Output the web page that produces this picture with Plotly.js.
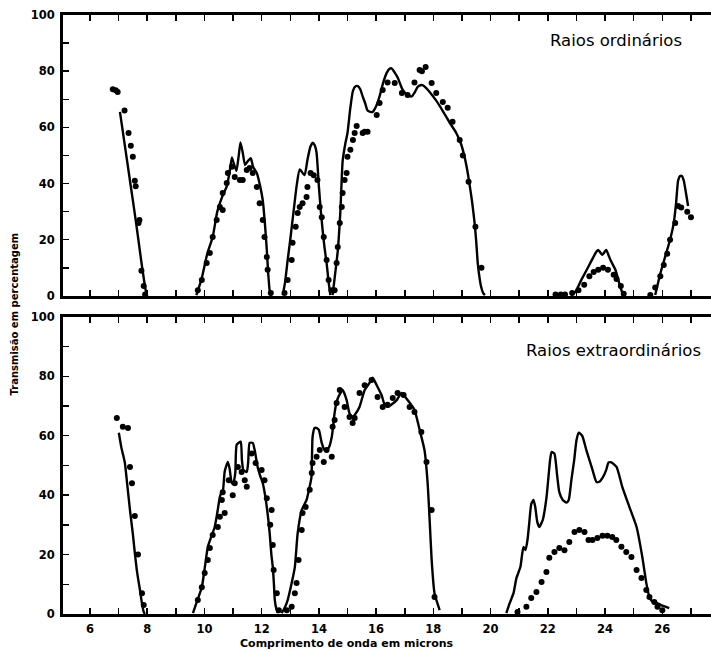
<!DOCTYPE html>
<html>
<head>
<meta charset="utf-8">
<script src="https://cdn.plot.ly/plotly-3.0.1.min.js"></script>
<style>html,body{margin:0;padding:0;background:#fff;}#chart{width:711px;height:651px;}</style>
</head>
<body>
<div id="chart"></div>
<script>
// ---------- Raios ordinários (top panel) ----------
const ordLineX = [7.05,7.2,7.4,7.6,7.8,7.9,7.97,8.0, null,
  9.72,9.9,10.1,10.29,10.45,10.61,10.78,10.88,10.96,11.03,11.12,11.2,11.26,11.34,11.42,11.52,11.62,11.7,11.83,11.95,12.04,12.12,12.18,12.23,12.28,12.32, null,
  12.74,12.82,12.91,13.0,13.08,13.15,13.22,13.33,13.5,13.6,13.7,13.78,13.86,13.92,14.0,14.07,14.13,14.2,14.27,14.34,14.4, null,
  14.48,14.57,14.66,14.75,14.83,14.92,15.0,15.1,15.19,15.28,15.36,15.45,15.53,15.62,15.7,15.8,15.88,16.0,16.12,16.25,16.37,16.46,16.54,16.65,16.76,16.85,16.93,17.1,17.24,17.35,17.45,17.55,17.62,17.75,17.87,18.1,18.32,18.55,18.8,18.97,19.09,19.18,19.26,19.36,19.44,19.5,19.55,19.62,19.67,19.74,19.8, null,
  22.8,22.96,23.17,23.41,23.6,23.7,23.76,23.83,23.9,23.97,24.04,24.12,24.2,24.36,24.53,24.64, null,
  25.75,25.93,26.1,26.27,26.4,26.48,26.55,26.62,26.68,26.75,26.82,26.9];
const ordLineY = [65.5,55,41,27,12,5,1,0, null,
  0.3,6,15,21,30,35,39,44,49.3,47,44.5,50,54.6,51,46.6,48,49,46,43.8,39,34,25,16.4,8,2,0, null,
  0.3,5,12.8,20,27,33,39,45,43,48.4,53,54.5,53.5,50.9,39,30,23.5,17,11.7,5,0.3, null,
  0.3,8,16,30,48,54,58,67,73,74.6,74.7,73.5,71,68.5,66,65.5,65.5,67.5,71,76,79.4,80.8,81,79.5,77.6,75.2,73.3,71.5,71,72.5,74.4,75,75,74,72.6,69.5,66,62,58,54,49.5,45,40,33,26,19,11.7,6,3.2,1,0.3, null,
  0.3,1.4,5.7,10.3,14,15.8,16.4,15.5,14.6,15.5,16.4,14.5,12.5,9.3,3.2,0, null,
  0.3,8,14,20,26,33,41,42.7,42.7,41,37,32];
const ordDotX = [6.8,6.9,6.97,7.21,7.35,7.43,7.5,7.57,7.6,7.7,7.73,7.8,7.88,7.93,
  9.77,9.91,10.08,10.19,10.29,10.43,10.54,10.64,10.64,10.78,10.82,10.96,11.06,11.24,11.34,11.48,11.58,11.69,11.83,11.93,12.04,12.1,12.18,12.21,12.32,
  12.8,12.91,13.05,13.08,13.19,13.26,13.33,13.43,13.57,13.6,13.71,13.82,13.95,14.03,14.1,14.17,14.27,14.34,14.44,
  14.55,14.62,14.66,14.73,14.8,14.83,14.9,14.97,15.0,15.1,15.19,15.25,15.32,15.53,15.6,15.7,16.02,16.12,16.23,16.4,16.65,16.9,17.1,17.34,17.52,17.6,17.73,17.94,18.1,18.33,18.5,18.67,18.92,19.03,19.23,19.47,19.68,
  22.27,22.45,22.6,22.85,23.07,23.27,23.45,23.6,23.76,23.93,24.1,24.3,24.4,24.55,24.65,
  25.58,25.75,25.93,26.05,26.17,26.27,26.45,26.55,26.66,26.87,27.0];
const ordDotY = [73.6,73.2,72.6,66,58,53.5,49.5,41,39,26,27,9,3.5,0.5,
  2,5.7,11.7,15.3,21,27,31.7,30.6,36.6,40.2,43.8,46,42.3,41.3,41.3,44.8,45.5,43.8,38.8,33,27,21,13.9,9.3,1,
  1,5.7,12.8,18.9,24.6,29.5,31.7,33,35.2,38.8,43.8,43,41.3,31.7,28,21,12.8,5.7,2,
  2,11.7,17.4,26,31.7,36.6,41.3,43.8,49.5,52,55.5,58,60.5,58,58.4,58.4,64.4,68.7,73.3,76,75.8,72.2,71.5,76,80.4,80,81.5,75.8,72.2,69,67,62,55.5,50,40.6,24.6,10,
  0.5,0.5,0.5,1,2,4,7,8.5,9.3,10,9.3,7.5,6,3.5,0.8,
  0.3,3,7,11,15,20,26,32,31.5,30,28];

// ---------- Raios extraordinários (bottom panel) ----------
const extLineX = [7.01,7.1,7.22,7.3,7.4,7.5,7.57,7.65,7.75,7.82,7.88,7.92, null,
  9.6,9.75,9.91,10.02,10.12,10.24,10.36,10.45,10.54,10.6,10.65,10.71,10.82,10.88,10.96,11.02,11.08,11.13,11.27,11.31,11.36,11.48,11.53,11.58,11.69,11.76,11.86,11.95,12.04,12.12,12.18,12.23,12.28,12.34,12.39,12.43,12.46,12.52,12.57, null,
  12.7,12.8,12.91,13.04,13.16,13.26,13.4,13.57,13.68,13.74,13.78,13.85,13.93,14.0,14.1,14.2,14.34,14.45,14.55,14.62,14.73,14.83,14.97,15.07,15.18,15.25,15.42,15.6,15.77,15.88,16.02,16.19,16.3,16.42,16.54,16.72,16.89,17.1,17.34,17.52,17.69,17.8,17.87,17.94,18.04,18.22, null,
  20.42,20.55,20.66,20.8,20.9,21.04,21.1,21.15,21.22,21.29,21.35,21.42,21.5,21.56,21.63,21.7,21.82,21.95,22.02,22.08,22.13,22.23,22.32,22.4,22.52,22.65,22.73,22.82,22.92,23.0,23.08,23.2,23.35,23.56,23.7,23.8,23.92,24.04,24.12,24.22,24.4,24.6,24.85,25.1,25.3,25.44,25.55,25.65,25.82,26.0,26.24];
const extLineY = [61,56,51,44,35,27,20.5,14,8,3.5,0.7,0, null,
  0.3,4.5,9,16,22.6,26,29.3,34,39.4,41,41.8,48,51.2,49,44,44.5,47.5,57,58,52,48.5,47.8,51,57.6,57.6,55,49.5,46.5,44,40,36,32,27.3,20,15.8,10,4.7,1.5,0.3, null,
  0.3,2,4.7,10,15.8,27.3,35,38.4,43,46,59.6,62.6,62.6,62,57.6,55.2,55.9,59.6,67.7,71.5,74,75.4,72,67.5,66.3,67,69.7,75.4,77.8,79.5,77,73.7,70.4,69.7,70.5,72,74.4,72,68.7,62,55.2,44,31.6,18.2,7,1.3,0, null,
  0.3,3.5,7,12,15.8,20,22.6,21.5,25,30.6,37,38.4,36,31,29.3,31.6,39,46,52,54.5,54,47,41,38.4,37.5,38.4,45,51.8,58.5,61,60,55,48.5,44.4,44.5,46,48.5,51,51,49.5,42.8,36,29.3,19.2,10.4,5.7,4.2,3.7,2.8,2,0.3];
const extDotX = [6.94,7.15,7.33,7.4,7.47,7.57,7.68,7.82,7.88,
  9.77,9.91,10.01,10.12,10.19,10.29,10.47,10.54,10.61,10.64,10.71,10.85,10.99,11.06,11.17,11.3,11.41,11.48,11.65,11.79,12.0,12.1,12.18,12.3,12.35,12.39,12.42,12.53,12.6,
  12.88,13.05,13.16,13.22,13.29,13.4,13.43,13.54,13.68,13.75,13.78,13.92,14.03,14.17,14.27,14.45,14.48,14.55,14.62,14.73,14.9,15.07,15.18,15.25,15.42,15.6,15.84,16.05,16.23,16.4,16.58,16.75,16.96,17.17,17.34,17.58,17.76,17.94,18.04,
  20.94,21.25,21.42,21.6,21.78,21.95,22.05,22.23,22.4,22.58,22.75,22.93,23.1,23.28,23.42,23.56,23.73,23.91,24.08,24.25,24.39,24.57,24.74,24.92,25.1,25.27,25.44,25.55,25.72,25.83,26.0];
const extDotY = [66,63,62.6,49.5,44,33,20,7,3,
  4.7,9,13.8,18.2,22.2,26.6,29.3,32.7,38.4,41,34,45,40,44,49.5,47.8,45,42.8,54,50.8,48.5,45,39,30,35,23.2,14.8,7,1.3,
  1.3,2.4,7,10.4,18.2,28.3,34,36,41.8,47.5,50.8,52.9,55.2,51.2,55.2,52.9,63,65.3,71,75.4,69.7,66.3,64.3,66,74.4,77,78.8,73,69.7,70.4,72.7,74.4,73.7,69.7,68,61.3,51.2,35,5.7,
  0.7,2.4,5.4,7.4,10.8,14.1,18.9,20.9,22.2,21.5,24.2,27.6,28.3,27.6,24.9,24.9,25.6,26.3,26.3,25.9,24.9,22.6,20.9,19.2,14.8,12.1,8.1,5.7,4,2.4,1.3];

// ---------- axis ticks ----------
const xTickVals = [5,6,7,8,9,10,11,12,13,14,15,16,17,18,19,20,21,22,23,24,25,26,27];
const xTickText = ['','6','','8','','10','','12','','14','','16','','18','','20','','22','','24','','26',''];
const yTickVals = [0,10,20,30,40,50,60,70,80,90,100];
const yTickText = ['0','','20','','40','','60','','80','','100'];

const lineStyle = {color:'#000', width:2.4, shape:'spline', smoothing:0.5};
const dotStyle = {color:'#000', size:6, symbol:'circle'};

const traces = [
  {x:ordLineX, y:ordLineY, xaxis:'x2', yaxis:'y2', mode:'lines', line:lineStyle, connectgaps:false, hoverinfo:'skip'},
  {x:ordDotX, y:ordDotY, xaxis:'x2', yaxis:'y2', mode:'markers', marker:dotStyle, cliponaxis:false},
  {x:extLineX, y:extLineY, xaxis:'x', yaxis:'y', mode:'lines', line:lineStyle, connectgaps:false, hoverinfo:'skip'},
  {x:extDotX, y:extDotY, xaxis:'x', yaxis:'y', mode:'markers', marker:dotStyle, cliponaxis:false}
];

const tickFont = {family:'DejaVu Sans', size:11.5, color:'#000', weight:'bold'};
const xBase = {
  range:[5.06,27.7], showline:true, linewidth:3, linecolor:'#000', mirror:'allticks',
  ticks:'inside', ticklen:6, tickwidth:1.5, tickcolor:'#000',
  tickmode:'array', tickvals:xTickVals, ticktext:xTickText,
  showgrid:false, zeroline:false, tickfont:tickFont
};
const yBase = {
  range:[0,100], showline:true, linewidth:3, linecolor:'#000', mirror:false,
  ticks:'inside', ticklen:6, tickwidth:1.5, tickcolor:'#000',
  tickmode:'array', tickvals:yTickVals, ticktext:yTickText,
  showgrid:false, zeroline:false, tickfont:tickFont, ticklabelstandoff:3
};

const layout = {
  width:711, height:651,
  margin:{l:63, r:0, t:15, b:37},
  paper_bgcolor:'#fff', plot_bgcolor:'#fff',
  showlegend:false,
  font:{family:'DejaVu Sans', color:'#000'},
  xaxis: Object.assign({}, xBase, {anchor:'y', ticklabelstandoff:2}),
  yaxis: Object.assign({}, yBase, {domain:[0,0.496], anchor:'x'}),
  xaxis2: Object.assign({}, xBase, {anchor:'y2', matches:'x', showticklabels:false}),
  yaxis2: Object.assign({}, yBase, {domain:[0.531,1], anchor:'x2'}),
  annotations:[
    {text:'Raios ordinários', xref:'paper', yref:'paper', x:0.853, y:0.957, showarrow:false,
     font:{family:'DejaVu Sans', size:16.5, color:'#000'}, xanchor:'center', yanchor:'middle'},
    {text:'Raios extraordinários', xref:'paper', yref:'paper', x:0.849, y:0.44, showarrow:false,
     font:{family:'DejaVu Sans', size:16.5, color:'#000'}, xanchor:'center', yanchor:'middle'},
    {text:'Transmisão em percentagem', xref:'paper', yref:'paper', x:-0.0756, y:0.5, textangle:-90, showarrow:false,
     font:{family:'DejaVu Sans', size:10, color:'#000', weight:'bold'}, xanchor:'center', yanchor:'middle'},
    {text:'Comprimento de onda em microns', xref:'paper', yref:'paper', x:0.4375, y:-0.05, showarrow:false,
     font:{family:'DejaVu Sans', size:11, color:'#000', weight:'bold'}, xanchor:'center', yanchor:'middle'}
  ]
};

Plotly.newPlot('chart', traces, layout, {displayModeBar:false, staticPlot:true});
</script>
</body>
</html>
